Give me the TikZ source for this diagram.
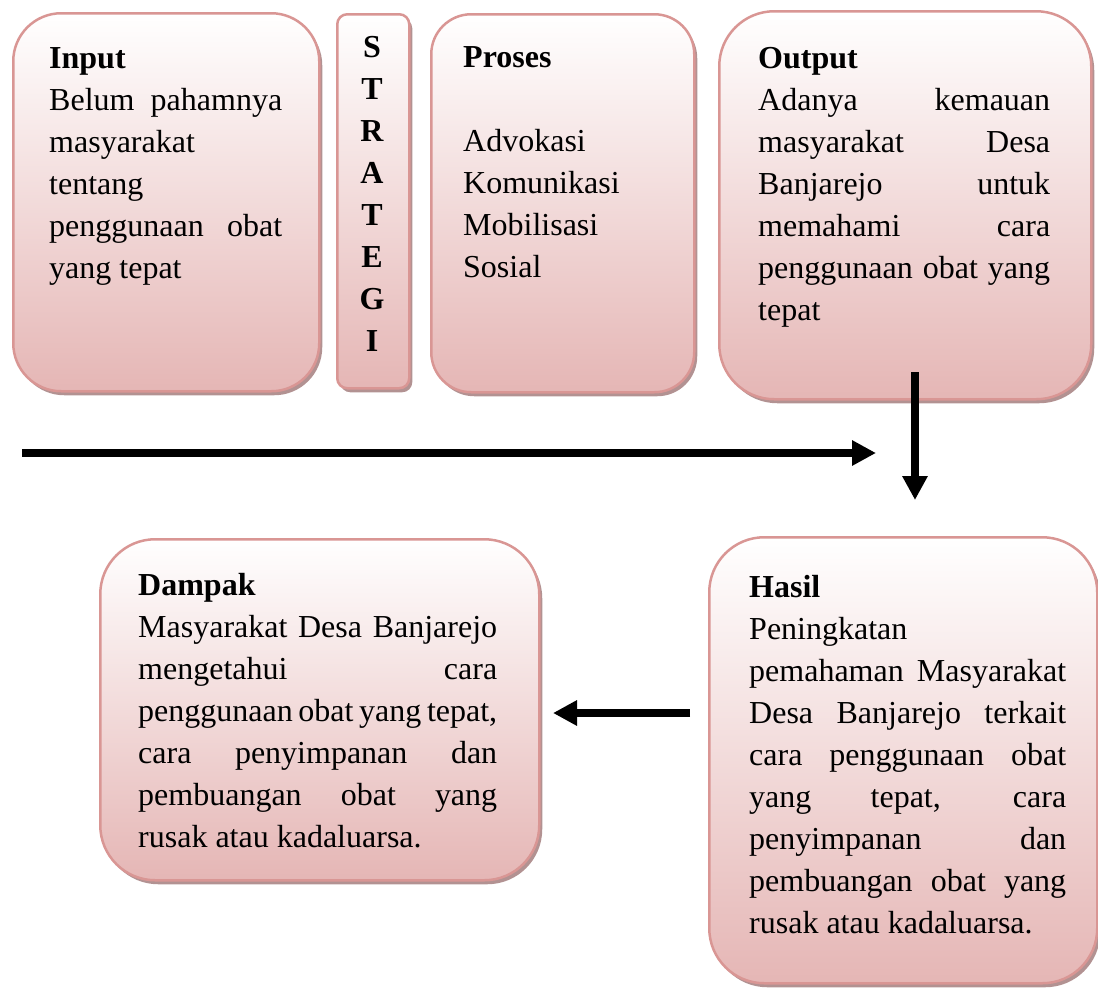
\documentclass[tikz,border=0pt]{standalone}
\usepackage{fontspec}
\setmainfont{Liberation Serif}
\usetikzlibrary{arrows.meta,shadows}

\definecolor{boxline}{RGB}{217,150,148}
\definecolor{boxfill}{RGB}{229,182,181}
\definecolor{shadowgrey}{RGB}{178,146,146}

\tolerance=10000
\hbadness=10000
\hyphenpenalty=10000

\begin{document}
\begin{tikzpicture}[x=1pt,y=-1pt]
      \tikzset{box/.style = {draw=boxline, line width=2.5pt, top color=white, bottom color=boxfill,
          drop shadow={shadow xshift=3pt, shadow yshift=-4pt, fill=shadowgrey, opacity=1},
          anchor=north west, inner sep=0pt}}
      \tikzset{boxtext/.style = {anchor=base west, inner sep=0pt, align=justify,
          font=\fontsize{32}{42}\selectfont}}
      \tikzset{bigarrow/.style = {line width=8pt, -{Triangle[length=24pt,width=24pt]}}}

      \useasboundingbox (0,0) rectangle (1098,989);

      % boxes
      \node[box, minimum width=306, minimum height=378, rounded corners=48pt] (input) at (12,12) {};
      \node[box, minimum width=72, minimum height=374, rounded corners=10pt] (strategi) at (336,13) {};
      \node[box, minimum width=263, minimum height=378, rounded corners=40pt] (proses) at (430,13) {};
      \node[box, minimum width=372, minimum height=388, rounded corners=55pt] (output) at (718,10) {};
      \node[box, minimum width=439, minimum height=341, rounded corners=55pt] (dampak) at (99,538) {};
      \node[box, minimum width=388, minimum height=446, rounded corners=55pt] (hasil) at (708,536) {};

      % texts
      \node[boxtext, text width=233pt] (inputtxt) at (49,68)
        {\textbf{Input}\\ Belum pahamnya\linebreak masyarakat\linebreak tentang\linebreak
         penggunaan obat\linebreak yang tepat};
      \node[boxtext, anchor=base, text width=40pt, align=center, font=\fontsize{32}{42}\selectfont\bfseries]
        (strategitxt) at (372,57) {S\\T\\R\\A\\T\\E\\G\\I};
      \node[boxtext, text width=210pt, align=left] (prosestxt) at (463,67)
        {\textbf{Proses}\\ ~\\ Advokasi\\ Komunikasi\\ Mobilisasi\\ Sosial};
      \node[boxtext, text width=292pt] (outputtxt) at (758,68)
        {\textbf{Output}\\ Adanya kemauan\linebreak masyarakat Desa\linebreak Banjarejo untuk\linebreak
         memahami cara\linebreak penggunaan obat yang\linebreak tepat};
      \node[boxtext, text width=359pt] (dampaktxt) at (138,595)
        {\textbf{Dampak}\\ Masyarakat Desa Banjarejo\linebreak mengetahui cara\linebreak
         penggunaan obat yang tepat,\linebreak cara penyimpanan dan\linebreak
         pembuangan obat yang\linebreak rusak atau kadaluarsa.};
      \node[boxtext, text width=317pt] (hasiltxt) at (749,597)
        {\textbf{Hasil}\\ Peningkatan\linebreak pemahaman Masyarakat\linebreak Desa Banjarejo terkait\linebreak
         cara penggunaan obat\linebreak yang tepat, cara\linebreak penyimpanan dan\linebreak
         pembuangan obat yang\linebreak rusak atau kadaluarsa.};

      % arrows
      \coordinate (flowstart) at (22,453);
      \coordinate (flowend) at (876,453);
      \coordinate (downstart) at (915,372);
      \coordinate (downend) at (915,500);
      \coordinate (backstart) at (690,713);
      \coordinate (backend) at (553,713);
      \draw[bigarrow] (flowstart) -- (flowend);
      \draw[bigarrow] (downstart) -- (downend);
      \draw[bigarrow] (backstart) -- (backend);
\end{tikzpicture}
\end{document}
